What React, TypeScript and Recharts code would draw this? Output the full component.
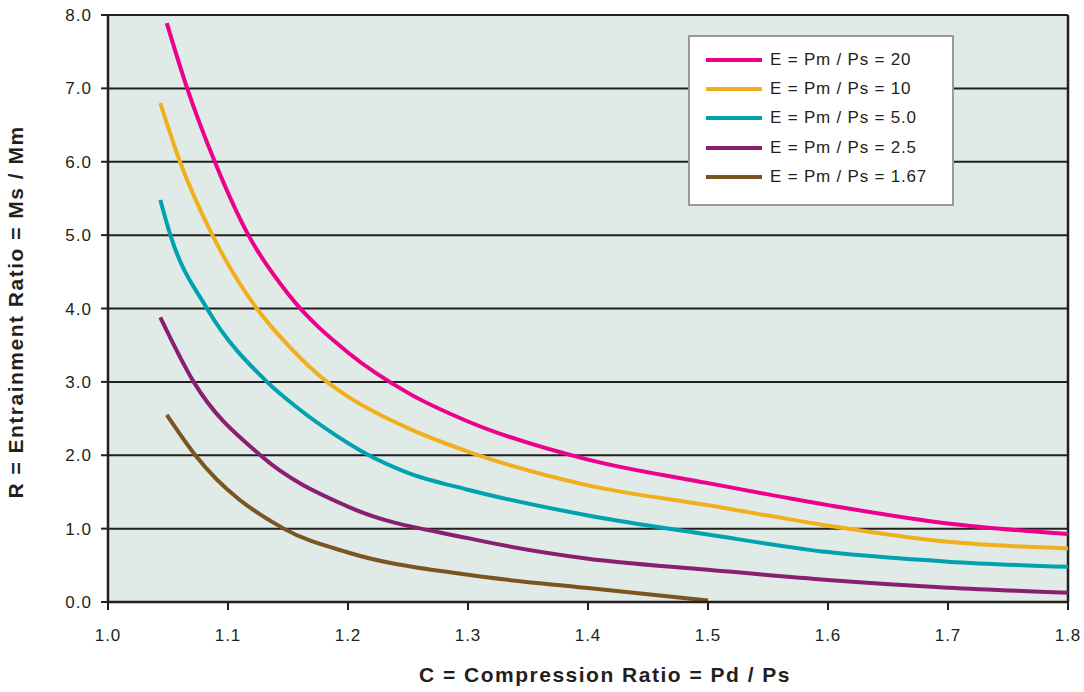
import React from 'react';
import {
  LineChart,
  Line,
  XAxis,
  YAxis,
  CartesianGrid,
  ReferenceLine,
  Legend,
  Label,
} from 'recharts';

// Entrainment ratio R vs compression ratio C, one curve per expansion ratio E
const seriesE20 = [
  { c: 1.049, r: 7.89 }, { c: 1.066, r: 7.0 }, { c: 1.089, r: 6.0 }, { c: 1.117, r: 5.0 },
  { c: 1.15, r: 4.2 }, { c: 1.2, r: 3.4 }, { c: 1.25, r: 2.85 }, { c: 1.3, r: 2.46 },
  { c: 1.4, r: 1.94 }, { c: 1.5, r: 1.62 }, { c: 1.6, r: 1.32 }, { c: 1.7, r: 1.07 },
  { c: 1.8, r: 0.925 },
];
const seriesE10 = [
  { c: 1.0436, r: 6.8 }, { c: 1.06, r: 6.0 }, { c: 1.087, r: 5.0 }, { c: 1.124, r: 4.0 },
  { c: 1.15, r: 3.5 }, { c: 1.1825, r: 3.0 }, { c: 1.2, r: 2.8 }, { c: 1.25, r: 2.37 },
  { c: 1.3, r: 2.05 }, { c: 1.4, r: 1.59 }, { c: 1.5, r: 1.32 }, { c: 1.6, r: 1.04 },
  { c: 1.7, r: 0.82 }, { c: 1.8, r: 0.73 },
];
const seriesE5 = [
  { c: 1.0436, r: 5.48 }, { c: 1.052, r: 5.0 }, { c: 1.0825, r: 4.0 }, { c: 1.1325, r: 3.0 },
  { c: 1.16, r: 2.62 }, { c: 1.19, r: 2.27 }, { c: 1.215, r: 2.02 }, { c: 1.25, r: 1.76 },
  { c: 1.3, r: 1.53 }, { c: 1.4, r: 1.18 }, { c: 1.5, r: 0.92 }, { c: 1.6, r: 0.68 },
  { c: 1.7, r: 0.55 }, { c: 1.8, r: 0.48 },
];
const seriesE25 = [
  { c: 1.0436, r: 3.88 }, { c: 1.0714, r: 3.0 }, { c: 1.127, r: 2.0 }, { c: 1.2, r: 1.3 },
  { c: 1.3, r: 0.87 }, { c: 1.4, r: 0.59 }, { c: 1.5, r: 0.44 }, { c: 1.6, r: 0.3 },
  { c: 1.7, r: 0.195 }, { c: 1.8, r: 0.127 },
];
const seriesE167 = [
  { c: 1.049, r: 2.55 }, { c: 1.0728, r: 2.0 }, { c: 1.1464, r: 1.0 }, { c: 1.2, r: 0.675 },
  { c: 1.3, r: 0.37 }, { c: 1.4, r: 0.19 }, { c: 1.5, r: 0.02 },
];

const xTicks = [1.0, 1.1, 1.2, 1.3, 1.4, 1.5, 1.6, 1.7, 1.8];
const yTicks = [0, 1, 2, 3, 4, 5, 6, 7, 8];

const SERIES = [
  { name: 'E = Pm / Ps = 20', data: seriesE20, color: '#EC008C' },
  { name: 'E = Pm / Ps = 10', data: seriesE10, color: '#F0AF1C' },
  { name: 'E = Pm / Ps = 5.0', data: seriesE5, color: '#00A2AF' },
  { name: 'E = Pm / Ps = 2.5', data: seriesE25, color: '#881F72' },
  { name: 'E = Pm / Ps = 1.67', data: seriesE167, color: '#7B5521' },
];

const FONT = '"Liberation Sans", Arial, Helvetica, sans-serif';
const INK = '#231F20';

function LegendBox() {
  return (
    <div
      style={{
        width: 266,
        height: 171,
        boxSizing: 'border-box',
        background: '#fff',
        border: '2px solid #9a9a9a',
        paddingTop: 8,
        fontFamily: FONT,
      }}
    >
      {SERIES.map((s) => (
        <div key={s.name} style={{ display: 'flex', alignItems: 'center', height: 29.3 }}>
          <div style={{ marginLeft: 16, width: 56, height: 4, background: s.color }} />
          <span style={{ marginLeft: 8, fontSize: 17, letterSpacing: 0.8, color: INK }}>{s.name}</span>
        </div>
      ))}
    </div>
  );
}

export default function App() {
  return (
    <div style={{ position: 'absolute', left: 0, top: 0, width: 1084, height: 692, background: '#fff' }}>
      <LineChart width={1084} height={692} margin={{ top: 15, right: 16, bottom: 0, left: 0 }}>
        <CartesianGrid vertical={false} stroke={INK} strokeWidth={2} fill="#E0EAE6" fillOpacity={1} />
        <XAxis
          type="number"
          dataKey="c"
          domain={[1.0, 1.8]}
          ticks={xTicks}
          allowDataOverflow
          height={90}
          tickSize={8}
          tickMargin={19}
          tickFormatter={(v: number) => v.toFixed(1)}
          axisLine={{ stroke: INK, strokeWidth: 2.5 }}
          tickLine={{ stroke: INK, strokeWidth: 2 }}
          tick={{ fill: INK, fontSize: 17, fontFamily: FONT, letterSpacing: 1 }}
        >
          <Label
            content={() => (
              <text
                x={605}
                y={682}
                textAnchor="middle"
                fill={INK}
                style={{ fontFamily: FONT, fontSize: 21, fontWeight: 'bold', letterSpacing: 1.5 }}
              >
                C = Compression Ratio = Pd / Ps
              </text>
            )}
          />
        </XAxis>
        <YAxis
          type="number"
          domain={[0, 8]}
          ticks={yTicks}
          allowDataOverflow
          width={108}
          tickSize={7}
          tickMargin={9}
          tickFormatter={(v: number) => v.toFixed(1)}
          axisLine={{ stroke: INK, strokeWidth: 2.5 }}
          tickLine={{ stroke: INK, strokeWidth: 2 }}
          tick={{ fill: INK, fontSize: 17, fontFamily: FONT, letterSpacing: 1 }}
        >
          <Label
            content={() => (
              <text
                x={23}
                y={312}
                transform="rotate(-90, 23, 312)"
                textAnchor="middle"
                fill={INK}
                style={{ fontFamily: FONT, fontSize: 21, fontWeight: 'bold', letterSpacing: 1.5 }}
              >
                R = Entrainment Ratio = Ms / Mm
              </text>
            )}
          />
        </YAxis>
        <ReferenceLine x={1.8} stroke={INK} strokeWidth={2.5} />
        <Legend
          layout="vertical"
          align="center"
          verticalAlign="middle"
          wrapperStyle={{ left: 688, top: 35, width: 266, height: 171 }}
          content={() => <LegendBox />}
        />
        {SERIES.map((s) => (
          <Line
            key={s.name}
            data={s.data}
            dataKey="r"
            name={s.name}
            type="monotone"
            stroke={s.color}
            strokeWidth={4}
            dot={false}
            activeDot={false}
            isAnimationActive={false}
          />
        ))}
      </LineChart>
    </div>
  );
}
